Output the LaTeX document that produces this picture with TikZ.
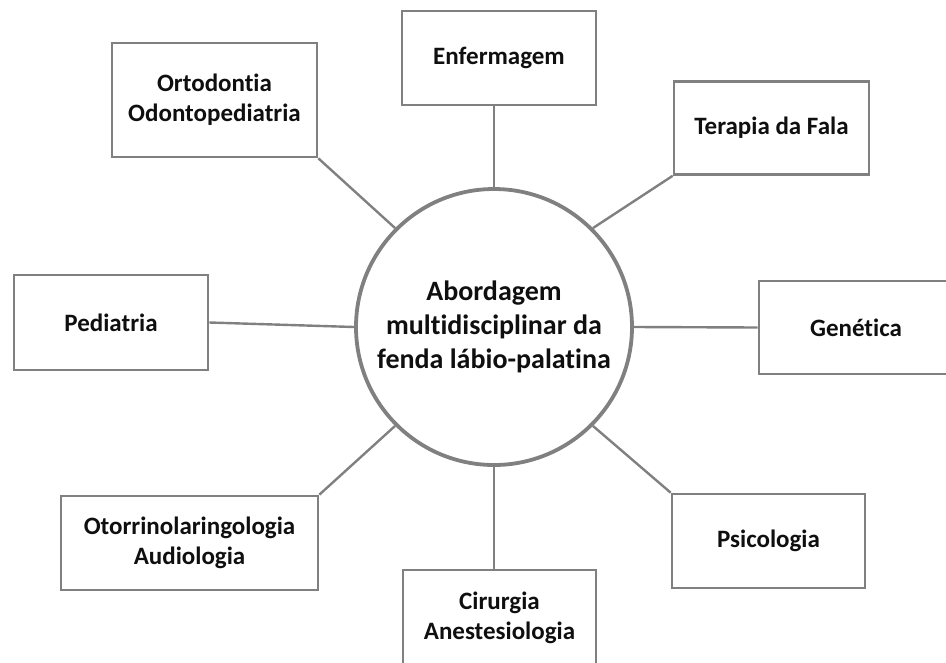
\documentclass[tikz,border=0pt]{standalone}
\usepackage{fontspec}
\setmainfont{Carlito}[Ligatures=NoCommon]
\definecolor{edge}{RGB}{128,128,128}
\definecolor{ink}{RGB}{15,15,15}
\begin{document}
\begin{tikzpicture}[x=1pt,y=-1pt,
  boxnode/.style={draw=edge,line width=2.6pt,fill=white,inner sep=0pt,
    minimum width=194pt,minimum height=94pt,align=center,text=ink,
    font=\bfseries\fontsize{25}{30}\selectfont},
  hub/.style={circle,draw=edge,line width=3.8pt,fill=white,inner sep=0pt,
    minimum size=276pt,align=center,text=ink,
    font=\bfseries\fontsize{28}{34}\selectfont},
  link/.style={draw=edge,line width=2.4pt}]
\useasboundingbox (0,0) rectangle (946,662);
\node[hub] (c) at (494,327) {Abordagem\\multidisciplinar da\\fenda lábio-palatina};
\node[boxnode] (enf) at (499,58) {Enfermagem};
\node[boxnode,minimum width=205pt,minimum height=114pt] (orto) at (214.5,100) {Ortodontia\\Odontopediatria};
\node[boxnode,minimum width=195pt,minimum height=93pt] (ter) at (771.5,128) {Terapia da Fala};
\node[boxnode,minimum height=95pt] (ped) at (111,322.5) {Pediatria};
\node[boxnode,minimum width=194pt,minimum height=93pt] (gen) at (856,327.5) {Genética};
\node[boxnode,minimum width=257pt,minimum height=94pt] (oto) at (189.5,543) {Otorrinolaringologia\\Audiologia};
\node[boxnode,minimum width=193pt,minimum height=94pt] (psi) at (768.5,541) {Psicologia};
\node[boxnode,minimum width=193pt,minimum height=96pt] (cir) at (499.5,618) {Cirurgia\\Anestesiologia};
\draw[link] (c.90) -- (c.90 |- enf.south);
\draw[link] (c.135) -- (orto.south east);
\draw[link] (c.45) -- (ter.south west);
\draw[link] (c.180) -- (ped.east);
\draw[link] (c.0) -- (gen.west);
\draw[link] (c.225) -- (oto.north east);
\draw[link] (c.315) -- (psi.north west);
\draw[link] (c.270) -- (c.270 |- cir.north);
\end{tikzpicture}
\end{document}
